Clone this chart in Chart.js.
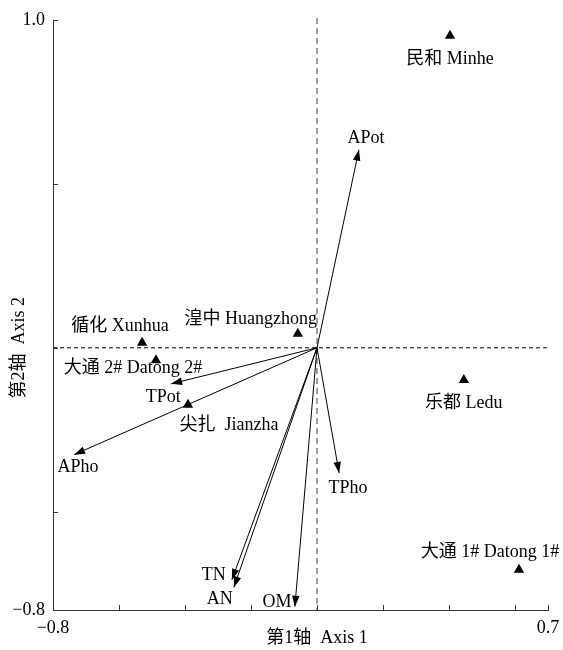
<!DOCTYPE html>
<html>
<head>
<meta charset="utf-8">
<script src="https://cdn.jsdelivr.net/npm/chart.js@4/dist/chart.umd.min.js"></script>
<style>
  html, body { margin: 0; padding: 0; background: #fff; }
  #wrap { width: 563px; height: 650px; }
</style>
</head>
<body>
<div id="wrap"><canvas id="c" width="563" height="650"></canvas></div>
<script>
// Sampling sites (triangles) and soil factors (arrows) on the first two ordination axes
const sites = ['民和 Minhe', '乐都 Ledu', '大通 1# Datong 1#', '湟中 Huangzhong', '循化 Xunhua', '大通 2# Datong 2#', '尖扎  Jianzha'];
const siteAxis1 = [0.403, 0.445, 0.612, -0.058, -0.530, -0.488, -0.391];
const siteAxis2 = [0.952, -0.098, -0.677, 0.043, 0.015, -0.038, -0.174];

const factors = ['APot', 'TPot', 'APho', 'TPho', 'TN', 'AN', 'OM'];
const factorAxis1 = [0.127, -0.442, -0.736, 0.067, -0.258, -0.252, -0.067];
const factorAxis2 = [0.604, -0.110, -0.326, -0.382, -0.708, -0.731, -0.790];

const xTicks = [-0.8, -0.6, -0.4, -0.2, 0, 0.2, 0.4, 0.6, 0.7];
const yTicks = [-0.8, -0.5, 0, 0.5, 1.0];
const xLabelled = [-0.8, 0.7];
const yLabelled = [-0.8, 1.0];

// label offsets in pixels from each mark
const siteLabelOffset = [[0, 24], [0, 23], [-29, -17], [-47, -14], [-22, -17], [-23, 8], [41, 20]];
const factorLabelOffset = [[7, -12], [-8, 13], [4, 13], [9, 15], [-18, -5], [-14, 12], [-18, -4]];

const FONT = "'Liberation Serif', 'Noto Sans CJK SC', serif";
Chart.defaults.font.family = FONT;
Chart.defaults.font.size = 18;
Chart.defaults.color = '#000';

const fmt = v => (v < 0 ? '\u2212' : '') + Math.abs(v).toFixed(1);

const datasets = [];
factors.forEach((f, i) => {
  datasets.push({
    label: f,
    type: 'line',
    data: [{ x: 0, y: 0 }, { x: factorAxis1[i], y: factorAxis2[i] }],
    borderColor: '#000',
    borderWidth: 1,
    pointRadius: 0,
    fill: false,
    tension: 0
  });
});
datasets.push({
  label: 'sites',
  type: 'scatter',
  data: sites.map((s, i) => ({ x: siteAxis1[i], y: siteAxis2[i] })),
  pointStyle: 'triangle',
  pointRadius: 6,
  backgroundColor: '#000',
  borderColor: '#000',
  borderWidth: 0
});

const ordinationPlugin = {
  id: 'ordination',
  beforeDatasetsDraw(chart) {
    const { ctx, chartArea: a, scales: { x, y } } = chart;
    const x0 = x.getPixelForValue(0), y0 = y.getPixelForValue(0);
    ctx.save();
    // vertical zero line
    ctx.strokeStyle = '#808080';
    ctx.lineWidth = 1.5;
    ctx.setLineDash([6, 4]);
    ctx.beginPath();
    ctx.moveTo(x0, a.top - 2);
    ctx.lineTo(x0, a.bottom);
    ctx.stroke();
    // horizontal zero line
    ctx.strokeStyle = '#000';
    ctx.lineWidth = 1;
    ctx.setLineDash([4, 3]);
    ctx.beginPath();
    ctx.moveTo(a.left, y0);
    ctx.lineTo(a.right, y0);
    ctx.stroke();
    ctx.restore();
  },
  afterDatasetsDraw(chart) {
    const { ctx, chartArea: a, scales: { x, y } } = chart;
    ctx.save();
    // inward tick marks
    ctx.strokeStyle = '#333';
    ctx.lineWidth = 1;
    ctx.beginPath();
    xTicks.forEach(v => {
      const px = Math.round(x.getPixelForValue(v)) + 0.5;
      ctx.moveTo(px, a.bottom);
      ctx.lineTo(px, a.bottom - 5);
    });
    yTicks.forEach(v => {
      const py = Math.round(y.getPixelForValue(v)) + 0.5;
      ctx.moveTo(a.left, py);
      ctx.lineTo(a.left + 5, py);
    });
    ctx.stroke();

    // arrow heads
    const x0 = x.getPixelForValue(0), y0 = y.getPixelForValue(0);
    ctx.fillStyle = '#000';
    factors.forEach((f, i) => {
      const tx = x.getPixelForValue(factorAxis1[i]);
      const ty = y.getPixelForValue(factorAxis2[i]);
      const ang = Math.atan2(ty - y0, tx - x0);
      const L = 11, W = 3.8;
      ctx.beginPath();
      ctx.moveTo(tx, ty);
      ctx.lineTo(tx - L * Math.cos(ang) + W * Math.sin(ang), ty - L * Math.sin(ang) - W * Math.cos(ang));
      ctx.lineTo(tx - L * Math.cos(ang) - W * Math.sin(ang), ty - L * Math.sin(ang) + W * Math.cos(ang));
      ctx.closePath();
      ctx.fill();
    });

    // labels
    ctx.font = '18px ' + FONT;
    ctx.textAlign = 'center';
    ctx.textBaseline = 'middle';
    ctx.fillStyle = '#000';
    factors.forEach((f, i) => {
      const px = x.getPixelForValue(factorAxis1[i]) + factorLabelOffset[i][0];
      const py = y.getPixelForValue(factorAxis2[i]) + factorLabelOffset[i][1];
      ctx.fillText(f, px, py);
    });
    sites.forEach((s, i) => {
      const px = x.getPixelForValue(siteAxis1[i]) + siteLabelOffset[i][0];
      const py = y.getPixelForValue(siteAxis2[i]) + siteLabelOffset[i][1];
      ctx.fillText(s, px, py);
    });

    // axis titles
    ctx.fillText('第1轴  Axis 1', x.getPixelForValue(0), 638);
    ctx.translate(19, y.getPixelForValue(0));
    ctx.rotate(-Math.PI / 2);
    ctx.fillText('第2轴  Axis 2', 0, 0);
    ctx.restore();
  }
};

const noScalePadding = s => {
  s.paddingLeft = 0; s.paddingRight = 0; s.paddingTop = 0; s.paddingBottom = 0;
};

new Chart(document.getElementById('c'), {
  type: 'scatter',
  data: { datasets },
  options: {
    responsive: false,
    animation: false,
    events: [],
    layout: { padding: { top: 20, right: 15, left: 0, bottom: 0 } },
    plugins: { legend: { display: false }, tooltip: { enabled: false } },
    scales: {
      x: {
        type: 'linear',
        min: -0.8,
        max: 0.7,
        afterBuildTicks: s => { s.ticks = xTicks.map(v => ({ value: v })); },
        afterFit: s => { s.height = 40; noScalePadding(s); },
        grid: { display: true, drawOnChartArea: false, drawTicks: false },
        border: { display: true, color: '#333', width: 1 },
        ticks: {
          padding: 7,
          maxRotation: 0,
          autoSkip: false,
          callback: v => xLabelled.some(t => Math.abs(t - v) < 1e-9) ? fmt(v) : ''
        }
      },
      y: {
        type: 'linear',
        min: -0.8,
        max: 1.0,
        afterBuildTicks: s => { s.ticks = yTicks.map(v => ({ value: v })); },
        afterFit: s => { s.width = 53; noScalePadding(s); },
        grid: { display: true, drawOnChartArea: false, drawTicks: false },
        border: { display: true, color: '#333', width: 1 },
        ticks: {
          padding: 8,
          autoSkip: false,
          callback: v => yLabelled.some(t => Math.abs(t - v) < 1e-9) ? fmt(v) : ''
        }
      }
    }
  },
  plugins: [ordinationPlugin]
});
</script>
</body>
</html>
